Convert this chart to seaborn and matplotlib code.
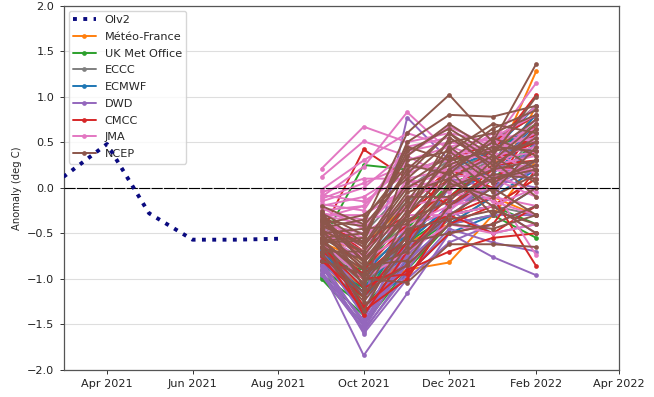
import numpy as np
import pandas as pd
import matplotlib
matplotlib.use("Agg")
import matplotlib.pyplot as plt
import matplotlib.dates as mdates
from matplotlib.lines import Line2D
import seaborn as sns

# ---------------- data ----------------
obs_dates = ["2021-03-01", "2021-04-01", "2021-05-01", "2021-06-01", "2021-07-01", "2021-08-01"]
obs_values = [0.12, 0.48, -0.28, -0.57, -0.57, -0.56]

fc_dates = ["2021-09-01", "2021-10-01", "2021-11-01", "2021-12-01", "2022-01-01", "2022-02-01"]

models = ["Météo-France", "UK Met Office", "ECCC", "ECMWF", "DWD", "CMCC", "JMA", "NCEP"]

# each inner list = one ensemble member: Sep, Oct, Nov, Dec, Jan, Feb
meteo_france = [
    [-0.75, -1.10, -0.90, -0.82, -0.30, 0.30],
    [-0.60, -0.80, -0.40, -0.10, 0.20, 1.28],
    [-0.85, -1.30, -1.00, -0.30, -0.20, 0.10],
    [-0.50, -0.60, -0.20, 0.20, 0.40, 0.70],
    [-0.70, -1.00, -0.60, -0.40, -0.10, -0.30],
    [-0.65, -0.90, -0.50, 0.00, 0.30, 0.50],
    [-0.80, -1.20, -0.75, -0.20, 0.10, 0.20],
    [-0.55, -0.70, -0.30, 0.10, 0.00, 0.90],
]
uk_met_office = [
    [-1.00, -1.50, -0.90, -0.40, -0.30, -0.55],
    [-0.95, -1.30, -0.80, -0.20, 0.00, 0.30],
    [-0.90, -1.20, -0.50, -0.10, 0.30, 0.60],
    [-0.80, -0.90, -0.30, 0.20, 0.50, 0.80],
    [-0.70, -1.00, -0.60, -0.30, -0.20, -0.40],
    [-0.60, 0.25, 0.20, 0.30, 0.40, 0.70],
    [-0.98, -1.40, -0.70, -0.35, 0.10, 0.50],
    [-0.85, -1.10, -0.45, 0.05, 0.20, 0.65],
]
eccc = [
    [-0.60, -0.90, -0.50, -0.10, 0.10, 0.20],
    [-0.50, -0.70, -0.30, 0.10, 0.30, 0.50],
    [-0.70, -1.20, -0.70, -0.30, -0.20, -0.30],
    [-0.40, -0.50, 0.00, 0.30, 0.50, 0.90],
    [-0.55, -0.80, -0.40, 0.00, 0.20, 0.40],
    [-0.65, -1.05, -0.60, -0.20, 0.00, 0.60],
    [-0.45, -0.60, -0.15, 0.15, 0.40, 0.75],
]
ecmwf = [
    [-0.70, -1.20, -0.70, -0.30, 0.00, 0.50],
    [-0.60, -1.00, -0.50, -0.10, 0.20, 0.70],
    [-0.80, -1.30, -0.95, -0.50, -0.30, 0.00],
    [-0.50, -0.80, -0.30, 0.20, 0.40, 0.90],
    [-0.65, -1.10, -0.60, -0.20, 0.10, 0.30],
    [-0.75, -1.40, -0.80, -0.40, -0.10, 0.20],
    [-0.68, -1.15, -0.65, 0.00, 0.30, 0.80],
    [-0.58, -0.95, -0.45, -0.25, 0.15, 0.60],
]
dwd = [
    [-0.90, -1.84, -1.16, -0.50, -0.76, -0.96],
    [-0.85, -1.58, -0.90, -0.30, -0.20, -0.50],
    [-0.80, -1.50, -0.70, -0.20, 0.00, 0.20],
    [-0.95, -1.55, -0.80, -0.40, -0.30, -0.30],
    [-0.75, -1.40, -0.60, 0.00, 0.20, 0.40],
    [-0.70, -1.30, 0.77, 0.30, 0.50, 0.80],
    [-0.88, -1.45, -0.50, -0.10, 0.10, 0.00],
    [-0.60, -1.20, -0.30, 0.20, 0.30, 0.60],
    [-0.82, -1.60, -1.00, -0.60, -0.40, -0.20],
    [-0.78, -1.35, -0.40, 0.10, 0.00, 0.30],
    [-0.92, -1.52, -0.75, -0.25, -0.50, -0.40],
    [-0.86, -1.48, -0.65, -0.35, 0.15, 0.10],
    [-0.72, -1.38, -0.85, -0.15, -0.10, 0.50],
    [-0.96, -1.56, -0.95, -0.45, -0.60, -0.70],
]
cmcc = [
    [-0.50, 0.42, 0.10, -0.20, 0.20, 0.60],
    [-0.30, -0.80, -0.50, -0.30, -0.10, -0.86],
    [-0.60, -1.30, -0.90, -0.70, -0.55, -0.50],
    [-0.70, -1.00, -0.95, -0.50, -0.40, 0.20],
    [-0.40, -0.60, -0.30, 0.10, 0.40, 1.02],
    [-0.55, -1.40, -0.70, -0.20, 0.10, 0.40],
    [-0.80, -1.20, -0.60, 0.30, 0.50, 0.80],
    [-0.45, -0.90, -0.40, 0.00, 0.30, 0.50],
    [-0.65, -1.10, -0.85, -0.40, -0.20, 0.10],
    [-0.35, -0.70, -0.20, 0.20, 0.00, 0.70],
    [-0.75, -1.35, -1.00, -0.30, -0.50, -0.20],
    [-0.58, -0.95, -0.55, -0.10, 0.25, 0.30],
]
jma = [
    [0.21, 0.67, 0.50, 0.60, 0.50, 1.15],
    [0.12, 0.51, 0.35, 0.67, 0.45, 0.90],
    [-0.10, 0.23, 0.83, 0.40, 0.30, 0.70],
    [-0.20, -0.10, 0.20, 0.30, 0.60, 0.50],
    [-0.30, -0.30, 0.00, 0.10, 0.20, 0.20],
    [-0.15, 0.00, 0.40, 0.50, 0.40, 0.60],
    [-0.40, -0.50, -0.20, -0.10, 0.00, -0.74],
    [-0.05, 0.10, 0.10, 0.20, 0.10, 0.30],
    [-0.25, -0.20, 0.30, 0.45, 0.55, 0.80],
    [-0.35, -0.60, -0.40, -0.20, -0.10, -0.20],
    [-0.50, -0.80, -0.50, 0.00, 0.30, 0.40],
    [-0.45, -0.70, -0.30, -0.30, -0.20, 0.00],
    [-0.60, -1.00, -0.70, -0.40, -0.50, -0.40],
    [-0.30, -0.40, 0.00, 0.25, 0.20, 0.10],
    [-0.08, -0.15, 0.15, 0.35, 0.50, 0.65],
    [-0.22, -0.45, 0.05, 0.15, 0.35, 0.45],
    [-0.18, -0.25, 0.45, 0.55, 0.25, 0.35],
    [-0.38, -0.55, -0.10, 0.05, 0.15, -0.05],
    [-0.12, 0.05, 0.25, 0.20, 0.45, 0.55],
    [-0.28, -0.35, -0.25, 0.30, 0.05, 0.25],
    [-0.42, -0.65, 0.10, -0.05, 0.40, 0.15],
    [-0.02, 0.30, 0.60, 0.45, 0.30, 0.75],
    [-0.33, -0.20, 0.35, 0.10, -0.15, -0.30],
    [-0.48, -0.75, -0.45, -0.25, 0.10, -0.10],
]
ncep = [
    [-0.20, -0.40, 0.60, 1.02, 0.50, 1.36],
    [-0.30, -0.60, 0.50, 0.80, 0.78, 0.90],
    [-0.35, -0.80, -0.20, 0.30, 0.40, 0.50],
    [-0.45, -1.00, -1.04, -0.62, -0.62, -0.65],
    [-0.50, -1.35, -0.50, 0.00, 0.20, 0.30],
    [-0.55, -0.50, 0.20, 0.60, 0.30, 0.70],
    [-0.60, -0.90, -0.70, -0.30, 0.00, -0.30],
    [-0.65, -1.20, -0.30, 0.20, -0.30, 0.00],
    [-0.40, -0.30, 0.10, 0.50, 0.60, 0.80],
    [-0.70, -0.70, -0.10, -0.10, 0.10, 0.20],
    [-0.25, -1.10, 0.30, 0.40, 0.70, 0.60],
    [-0.50, -0.45, -0.40, 0.10, -0.20, -0.50],
    [-0.80, -0.95, -0.60, -0.50, -0.40, -0.20],
    [-0.38, -0.65, 0.00, 0.25, 0.45, 0.40],
    [-0.48, -0.85, -0.80, -0.20, 0.15, 0.10],
    [-0.58, -0.55, 0.40, 0.65, 0.35, 1.00],
    [-0.32, -0.75, -0.15, 0.45, 0.10, 0.25],
    [-0.62, -1.05, -0.45, -0.35, -0.25, -0.40],
    [-0.44, -0.35, 0.25, 0.15, 0.55, 0.35],
    [-0.52, -0.88, -0.25, 0.55, 0.25, 0.55],
    [-0.72, -1.25, -0.65, 0.05, -0.10, 0.15],
    [-0.28, -0.52, 0.35, 0.70, 0.40, 0.75],
    [-0.66, -0.78, -0.35, -0.15, 0.30, -0.10],
    [-0.42, -0.62, 0.05, 0.35, -0.05, 0.45],
    [-0.56, -0.98, -0.55, 0.20, 0.50, 0.20],
    [-0.36, -0.42, 0.15, 0.60, 0.20, 0.65],
    [-0.74, -1.15, -0.85, -0.40, -0.45, -0.30],
    [-0.46, -0.70, -0.05, 0.10, 0.35, 0.05],
    [-0.60, -0.58, 0.45, 0.30, 0.65, 0.85],
    [-0.34, -0.82, -0.30, 0.40, 0.05, 0.30],
]
model_data = [meteo_france, uk_met_office, eccc, ecmwf, dwd, cmcc, jma, ncep]
model_colors = ["#ff7f0e", "#2ca02c", "#7f7f7f", "#1f77b4", "#9467bd", "#d62728", "#e377c2", "#8c564b"]

y_ticks = [-2.0, -1.5, -1.0, -0.5, 0.0, 0.5, 1.0, 1.5, 2.0]

# ---------------- build tables ----------------
rows = []
for name, members in zip(models, model_data):
    for k, traj in enumerate(members):
        for d, v in zip(fc_dates, traj):
            rows.append({"date": pd.Timestamp(d), "anomaly": v, "model": name,
                         "member": f"{name}_{k}"})
fc = pd.DataFrame(rows)
obs = pd.DataFrame({"date": pd.to_datetime(obs_dates), "anomaly": obs_values})

# ---------------- plot ----------------
sns.set_style("ticks")
plt.rcParams["font.family"] = ["DejaVu Sans"]
plt.rcParams["font.size"] = 8.1

fig = plt.figure(figsize=(6.54, 3.97), dpi=100)
W, H = 654, 397
ax = fig.add_axes([63.5 / W, 1 - 370 / H, (619 - 63.5) / W, (370 - 5.5) / H])

palette = dict(zip(models, model_colors))
sns.lineplot(data=fc, x="date", y="anomaly", hue="model", hue_order=models,
             units="member", estimator=None, palette=palette, marker="o",
             markersize=3.4, markeredgewidth=0, linewidth=1.4, sort=False,
             legend=False, ax=ax, zorder=2)

ax.axhline(0, color="black", linewidth=0.8, linestyle=(0, (10, 1.2)), zorder=4)

handles = [Line2D([0], [0], color="#0a0a80", linestyle=":", linewidth=2.8, label="OIv2")]
for name, col in zip(models, model_colors):
    handles.append(Line2D([0], [0], color=col, marker="o", markersize=3.4,
                          markeredgewidth=0, linewidth=1.4, label=name))
leg = ax.legend(handles=handles, loc="upper left", fontsize=8.1, frameon=True,
                borderaxespad=0.45, handlelength=2.0, labelspacing=0.6)
leg.set_zorder(5)

# observations drawn above the legend, as in the original
sns.lineplot(data=obs, x="date", y="anomaly", color="#0a0a80", linestyle=":",
             linewidth=2.8, legend=False, ax=ax, zorder=6)

ax.set_xlim(pd.Timestamp("2021-03-01"), pd.Timestamp("2022-04-01"))
ax.set_ylim(-2.0, 2.0)
ax.set_yticks(y_ticks)
ax.set_yticklabels([f"{t:.1f}".replace("-", "\u2212") for t in y_ticks])
ax.xaxis.set_major_locator(mdates.MonthLocator(bymonth=(2, 4, 6, 8, 10, 12)))
ax.xaxis.set_major_formatter(mdates.DateFormatter("%b %Y"))
ax.yaxis.grid(True, color="#dedede", linewidth=0.8, zorder=0)
ax.xaxis.grid(False)
ax.set_axisbelow(True)
ax.set_xlabel("")
ax.set_ylabel("Anomaly (deg C)", fontsize=7.2, labelpad=4)
ax.tick_params(axis="both", labelsize=8.1, length=3, width=0.7, colors="#333333",
               labelcolor="#222222")
for sp in ax.spines.values():
    sp.set_visible(True)
    sp.set_color("#555555")
    sp.set_linewidth(0.9)

fig.savefig("out.png", dpi=100)
